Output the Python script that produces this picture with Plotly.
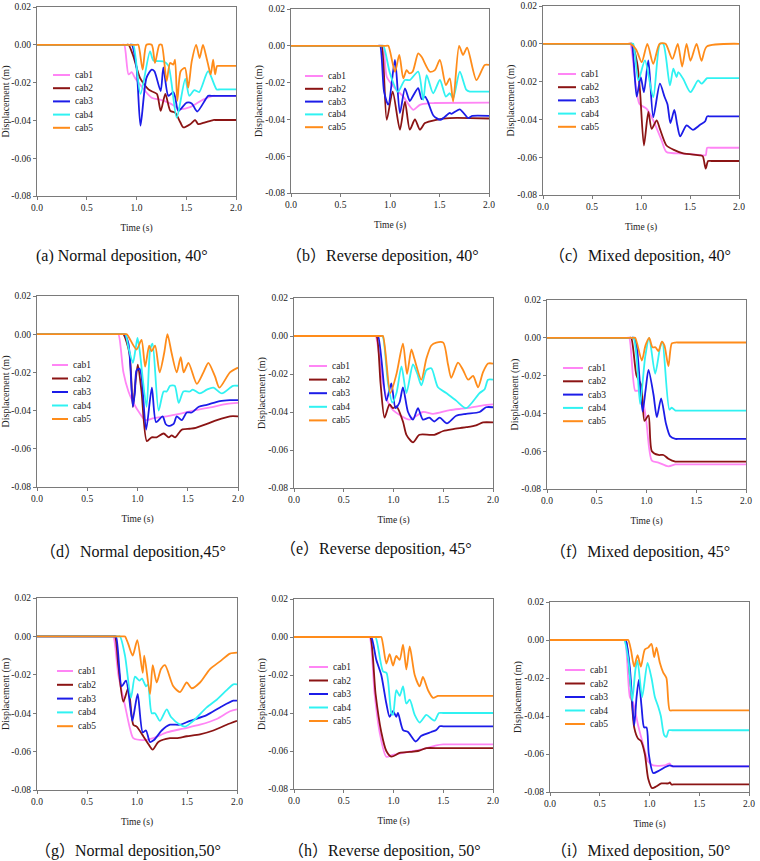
import plotly.graph_objects as go

W, H = 760, 861

SERIES_NAMES = ["cab1", "cab2", "cab3", "cab4", "cab5"]
COLORS = ["#FF85F5", "#8B1414", "#1C1CE8", "#30F2F2", "#FF8C1A"]

X_TICKS = [0.0, 0.5, 1.0, 1.5, 2.0]
X_TICK_LABELS = ["0.0", "0.5", "1.0", "1.5", "2.0"]
Y_TICKS = [0.02, 0.0, -0.02, -0.04, -0.06, -0.08]
Y_TICK_LABELS = ["0.02", "0.00", "-0.02", "-0.04", "-0.06", "-0.08"]

CAPTIONS = [
    "(a) Normal deposition, 40°",
    "（b）Reverse deposition, 40°",
    "（c）Mixed deposition, 40°",
    "（d）Normal deposition,45°",
    "（e）Reverse deposition, 45°",
    "（f）Mixed deposition, 45°",
    "（g）Normal deposition,50°",
    "（h）Reverse deposition, 50°",
    "（i）Mixed deposition, 50°",
]

# ---------------- data (time s, displacement m) ----------------
a_t1 = [0, 0.855, 0.877, 0.92, 0.952, 0.985, 1.153, 1.236, 1.337, 1.437, 1.538, 1.67, 1.77, 1.80, 2.0]
a_y1 = [0, 0, 0, -0.0157, -0.0145, -0.0175, -0.028, -0.029, -0.031, -0.034, -0.033, -0.029, -0.027, -0.027, -0.027]
a_t2 = [0, 0.90, 0.92, 0.968, 1.035, 1.12, 1.17, 1.206, 1.243, 1.29, 1.34, 1.39, 1.44, 1.47, 1.54, 1.59, 1.62, 1.69, 1.77, 1.80, 2.0]
a_y2 = [0, 0, 0, -0.006, -0.0175, -0.0236, -0.025, -0.026, -0.035, -0.026, -0.035, -0.036, -0.041, -0.0437, -0.042, -0.0398, -0.042, -0.041, -0.0398, -0.0398, -0.0398]
a_t3 = [0, 0.93, 0.952, 1.0, 1.04, 1.10, 1.153, 1.18, 1.243, 1.27, 1.32, 1.37, 1.39, 1.42, 1.505, 1.555, 1.61, 1.72, 1.75, 2.0]
a_y3 = [0, 0, 0, -0.012, -0.0428, -0.0175, -0.0131, -0.014, -0.0245, -0.012, -0.027, -0.025, -0.028, -0.035, -0.0306, -0.031, -0.0353, -0.027, -0.027, -0.027]
a_t4 = [0, 0.945, 0.968, 1.04, 1.136, 1.17, 1.27, 1.32, 1.404, 1.49, 1.53, 1.58, 1.63, 1.72, 1.806, 1.84, 2.0]
a_y4 = [0, 0, 0, -0.026, -0.0035, -0.0083, -0.0088, -0.011, -0.0385, -0.018, -0.027, -0.024, -0.025, -0.014, -0.0236, -0.0236, -0.0236]
a_t5 = [0, 1.0, 1.018, 1.062, 1.10, 1.153, 1.186, 1.23, 1.253, 1.303, 1.337, 1.37, 1.387, 1.41, 1.444, 1.487, 1.52, 1.555, 1.6, 1.634, 1.668, 1.70, 1.72, 1.746, 1.77, 1.79, 1.81, 1.84, 2.0]
a_y5 = [0, 0, 0, -0.0131, 0, 0, -0.0096, 0, 0, -0.0192, -0.0096, -0.0105, -0.0079, -0.0297, -0.014, -0.0122, -0.0227, -0.0088, 0, -0.007, 0, -0.0061, -0.0105, -0.0157, -0.0079, -0.0157, -0.0112, -0.0112, -0.0112]

b_t1 = [0, 0.92, 0.933, 0.967, 1.05, 1.134, 1.235, 1.302, 1.403, 1.45, 2.0]
b_y1 = [0, 0, 0, -0.0168, -0.0231, -0.0276, -0.0348, -0.0321, -0.0312, -0.0311, -0.0309]
b_t2 = [0, 0.90, 0.916, 0.967, 1.027, 1.10, 1.151, 1.2, 1.252, 1.302, 1.353, 1.47, 1.6, 2.0]
b_y2 = [0, 0, 0, -0.0402, -0.0249, -0.0456, -0.0303, -0.0456, -0.040, -0.0456, -0.042, -0.0402, -0.0393, -0.0395]
b_t3 = [0, 0.88, 0.90, 0.94, 0.983, 1.05, 1.10, 1.151, 1.2, 1.235, 1.285, 1.32, 1.353, 1.38, 1.44, 1.51, 1.604, 1.62, 1.705, 1.79, 1.83, 2.0]
b_y3 = [0, 0, 0, -0.0249, -0.032, -0.0077, -0.0366, -0.0231, -0.030, -0.027, -0.023, -0.029, -0.0276, -0.030, -0.038, -0.0402, -0.0365, -0.037, -0.0345, -0.0393, -0.0381, -0.0381]
b_t4 = [0, 0.91, 0.933, 1.0, 1.08, 1.15, 1.2, 1.285, 1.336, 1.37, 1.436, 1.504, 1.564, 1.604, 1.638, 1.705, 1.772, 1.806, 1.84, 2.0]
b_y4 = [0, 0, 0, -0.015, -0.025, -0.0186, -0.0186, -0.014, -0.0294, -0.016, -0.0258, -0.0186, -0.0276, -0.0258, -0.0285, -0.0141, -0.024, -0.0249, -0.0249, -0.0249]
b_t5 = [0, 0.96, 0.983, 1.05, 1.094, 1.134, 1.168, 1.194, 1.228, 1.285, 1.319, 1.403, 1.453, 1.504, 1.564, 1.604, 1.638, 1.698, 1.738, 1.779, 1.873, 1.957, 2.0]
b_y5 = [0, 0, 0, -0.0141, -0.005, -0.0177, -0.0132, -0.0149, -0.0141, -0.0041, -0.006, -0.0141, -0.0132, -0.0077, -0.0213, -0.0177, -0.0303, 0, -0.005, -0.001, -0.0186, -0.0104, -0.0104]

c_t1 = [0, 0.87, 0.89, 0.983, 1.058, 1.125, 1.21, 1.26, 1.43, 1.634, 1.66, 1.675, 1.71, 2.0]
c_y1 = [0, 0, 0, -0.0317, -0.0344, -0.0405, -0.0511, -0.0573, -0.0581, -0.059, -0.059, -0.055, -0.055, -0.055]
c_t2 = [0, 0.89, 0.905, 0.96, 0.99, 1.03, 1.075, 1.109, 1.16, 1.193, 1.26, 1.33, 1.43, 1.6, 1.63, 1.66, 1.685, 1.72, 2.0]
c_y2 = [0, 0, 0, -0.010, -0.025, -0.0538, -0.036, -0.045, -0.0405, -0.045, -0.0538, -0.056, -0.058, -0.059, -0.0595, -0.066, -0.062, -0.062, -0.062]
c_t3 = [0, 0.89, 0.905, 0.956, 0.997, 1.03, 1.075, 1.125, 1.193, 1.24, 1.27, 1.30, 1.34, 1.37, 1.40, 1.465, 1.53, 1.6, 1.655, 1.675, 1.71, 2.0]
c_y3 = [0, 0, 0, -0.028, -0.0176, -0.0256, -0.0088, -0.0388, -0.0211, -0.028, -0.032, -0.042, -0.035, -0.043, -0.049, -0.0432, -0.0455, -0.043, -0.041, -0.0384, -0.0384, -0.0384]
c_t4 = [0, 0.90, 0.92, 0.973, 1.04, 1.125, 1.193, 1.227, 1.295, 1.33, 1.363, 1.38, 1.43, 1.505, 1.583, 1.617, 1.675, 1.71, 2.0]
c_y4 = [0, 0, 0, -0.0194, -0.0088, -0.0282, 0, 0, -0.022, -0.0132, -0.0176, -0.015, -0.0185, -0.0256, -0.0194, -0.0211, -0.0182, -0.0182, -0.0182]
c_t5 = [0, 0.87, 0.89, 0.95, 1.007, 1.065, 1.125, 1.19, 1.25, 1.32, 1.375, 1.42, 1.465, 1.505, 1.567, 1.617, 1.67, 2.0]
c_y5 = [0, 0, 0, -0.003, -0.0097, 0, -0.0106, 0, 0, -0.008, 0, -0.012, 0, -0.009, 0, -0.009, -0.0015, 0]

d_t1 = [0, 0.79, 0.81, 0.86, 0.91, 0.96, 1.03, 1.076, 1.16, 1.29, 1.39, 1.556, 1.755, 1.89, 2.0]
d_y1 = [0, 0, 0, -0.020, -0.030, -0.036, -0.042, -0.045, -0.044, -0.043, -0.042, -0.040, -0.038, -0.0365, -0.036]
d_t2 = [0, 0.84, 0.86, 0.92, 0.954, 0.98, 1.003, 1.04, 1.093, 1.14, 1.19, 1.26, 1.31, 1.34, 1.374, 1.44, 1.52, 1.58, 1.69, 1.79, 1.92, 2.0]
d_y2 = [0, 0, 0, -0.010, -0.038, -0.025, -0.016, -0.030, -0.056, -0.054, -0.054, -0.052, -0.054, -0.053, -0.054, -0.050, -0.0495, -0.049, -0.047, -0.045, -0.043, -0.043]
d_t3 = [0, 0.85, 0.87, 0.91, 0.954, 0.975, 0.99, 1.02, 1.04, 1.086, 1.143, 1.185, 1.25, 1.28, 1.31, 1.36, 1.39, 1.44, 1.49, 1.54, 1.61, 1.69, 1.82, 1.92, 2.0]
d_y3 = [0, 0, 0, -0.005, -0.038, -0.030, -0.019, -0.018, -0.022, -0.050, -0.028, -0.046, -0.043, -0.047, -0.048, -0.047, -0.043, -0.045, -0.041, -0.041, -0.038, -0.037, -0.035, -0.0345, -0.0345]
d_t4 = [0, 0.86, 0.88, 0.91, 0.954, 0.98, 1.0, 1.02, 1.09, 1.126, 1.15, 1.21, 1.26, 1.29, 1.325, 1.37, 1.41, 1.457, 1.52, 1.55, 1.62, 1.69, 1.755, 1.84, 1.95, 2.0]
d_y4 = [0, 0, 0, -0.007, -0.015, -0.008, -0.002, -0.008, -0.038, -0.008, -0.005, -0.040, -0.030, -0.030, -0.027, -0.027, -0.036, -0.030, -0.030, -0.029, -0.031, -0.029, -0.028, -0.031, -0.027, -0.027]
d_t5 = [0, 0.874, 0.894, 0.99, 1.04, 1.076, 1.116, 1.14, 1.175, 1.22, 1.265, 1.298, 1.34, 1.39, 1.43, 1.46, 1.507, 1.59, 1.656, 1.705, 1.77, 1.815, 1.92, 2.0]
d_y5 = [0, 0, 0, -0.008, -0.003, -0.017, -0.006, -0.009, -0.006, -0.020, -0.010, 0, -0.010, -0.020, -0.012, -0.020, -0.015, -0.026, -0.020, -0.015, -0.022, -0.028, -0.020, -0.0175]

e_t1 = [0, 0.80, 0.82, 0.894, 0.945, 0.995, 1.16, 1.296, 1.397, 1.565, 1.73, 1.9, 2.0]
e_y1 = [0, 0, 0, -0.025, -0.035, -0.039, -0.044, -0.040, -0.041, -0.039, -0.038, -0.0365, -0.036]
e_t2 = [0, 0.81, 0.83, 0.87, 0.91, 0.96, 0.995, 1.03, 1.095, 1.13, 1.196, 1.26, 1.36, 1.41, 1.5, 1.6, 1.73, 1.83, 1.9, 2.0]
e_y2 = [0, 0, 0, -0.025, -0.043, -0.036, -0.038, -0.037, -0.045, -0.052, -0.056, -0.052, -0.052, -0.052, -0.050, -0.049, -0.048, -0.047, -0.0455, -0.0455]
e_t3 = [0, 0.825, 0.845, 0.928, 0.978, 1.02, 1.06, 1.095, 1.146, 1.196, 1.246, 1.296, 1.36, 1.41, 1.464, 1.537, 1.63, 1.73, 1.866, 1.93, 2.0]
e_y3 = [0, 0, 0, -0.034, -0.025, -0.038, -0.035, -0.027, -0.040, -0.044, -0.038, -0.044, -0.043, -0.045, -0.043, -0.046, -0.042, -0.041, -0.040, -0.0375, -0.0375]
e_t4 = [0, 0.87, 0.89, 0.945, 0.988, 1.03, 1.08, 1.13, 1.196, 1.24, 1.28, 1.33, 1.38, 1.447, 1.53, 1.63, 1.73, 1.866, 1.916, 1.95, 2.0]
e_y4 = [0, 0, 0, -0.025, -0.035, -0.030, -0.016, -0.030, -0.015, -0.020, -0.026, -0.018, -0.017, -0.027, -0.030, -0.034, -0.038, -0.030, -0.028, -0.023, -0.023]
e_t5 = [0, 0.874, 0.894, 0.968, 1.03, 1.095, 1.136, 1.18, 1.21, 1.28, 1.33, 1.38, 1.43, 1.5, 1.548, 1.58, 1.648, 1.7, 1.75, 1.8, 1.85, 1.9, 1.95, 2.0]
e_y5 = [0, 0, 0, -0.030, -0.020, -0.004, -0.020, -0.007, -0.012, -0.023, -0.012, -0.005, -0.0035, -0.0035, -0.015, -0.022, -0.014, -0.018, -0.023, -0.021, -0.027, -0.019, -0.0145, -0.0145]

f_t1 = [0, 0.806, 0.826, 0.886, 0.92, 0.97, 1.0, 1.054, 1.12, 1.22, 1.29, 1.33, 2.0]
f_y1 = [0, 0, 0, -0.028, -0.028, -0.035, -0.045, -0.065, -0.066, -0.068, -0.067, -0.067, -0.067]
f_t2 = [0, 0.826, 0.846, 0.9, 0.946, 0.98, 1.02, 1.054, 1.12, 1.17, 1.22, 1.29, 1.33, 2.0]
f_y2 = [0, 0, 0, -0.020, -0.025, -0.044, -0.041, -0.060, -0.062, -0.062, -0.064, -0.0655, -0.0655, -0.0655]
f_t3 = [0, 0.85, 0.87, 0.9, 0.96, 0.99, 1.02, 1.07, 1.104, 1.147, 1.194, 1.237, 1.29, 1.33, 2.0]
f_y3 = [0, 0, 0, -0.004, -0.039, -0.028, -0.017, -0.030, -0.042, -0.032, -0.045, -0.052, -0.0535, -0.0535, -0.0535]
f_t4 = [0, 0.85, 0.87, 0.9, 0.936, 0.987, 1.027, 1.087, 1.137, 1.16, 1.23, 1.254, 1.29, 1.33, 2.0]
f_y4 = [0, 0, 0, -0.010, -0.035, -0.010, 0, -0.019, -0.005, -0.002, -0.038, -0.037, -0.0385, -0.0385, -0.0385]
f_t5 = [0, 0.866, 0.886, 0.953, 0.99, 1.027, 1.06, 1.09, 1.12, 1.154, 1.18, 1.22, 1.254, 1.29, 1.33, 2.0]
f_y5 = [0, 0, 0, -0.012, -0.004, 0, -0.005, -0.005, -0.007, -0.002, -0.004, -0.015, -0.003, -0.0025, -0.0025, -0.0025]

g_t1 = [0, 0.743, 0.763, 0.813, 0.88, 0.93, 0.963, 1.063, 1.163, 1.297, 1.463, 1.63, 1.797, 1.93, 2.0]
g_y1 = [0, 0, 0, -0.020, -0.036, -0.048, -0.053, -0.054, -0.053, -0.050, -0.048, -0.046, -0.043, -0.039, -0.038]
g_t2 = [0, 0.76, 0.78, 0.813, 0.863, 0.913, 0.963, 0.997, 1.063, 1.113, 1.157, 1.213, 1.33, 1.397, 1.497, 1.63, 1.763, 1.897, 2.0]
g_y2 = [0, 0, 0, -0.015, -0.034, -0.027, -0.046, -0.047, -0.052, -0.056, -0.059, -0.055, -0.053, -0.053, -0.052, -0.051, -0.049, -0.046, -0.044]
g_t3 = [0, 0.77, 0.79, 0.847, 0.89, 0.953, 0.97, 1.007, 1.057, 1.09, 1.13, 1.17, 1.247, 1.33, 1.43, 1.53, 1.697, 1.83, 1.963, 2.0]
g_y3 = [0, 0, 0, -0.026, -0.023, -0.044, -0.040, -0.030, -0.050, -0.049, -0.055, -0.054, -0.049, -0.046, -0.046, -0.044, -0.041, -0.037, -0.0335, -0.0335]
g_t4 = [0, 0.81, 0.83, 0.88, 0.94, 0.98, 1.023, 1.05, 1.09, 1.11, 1.147, 1.18, 1.23, 1.297, 1.34, 1.43, 1.48, 1.563, 1.697, 1.797, 1.897, 1.963, 2.0]
g_y4 = [0, 0, 0, -0.010, -0.032, -0.021, -0.023, -0.022, -0.026, -0.025, -0.040, -0.040, -0.044, -0.038, -0.042, -0.046, -0.047, -0.044, -0.037, -0.033, -0.028, -0.025, -0.025]
g_t5 = [0, 0.86, 0.88, 0.913, 0.957, 1.003, 1.057, 1.073, 1.13, 1.157, 1.197, 1.24, 1.28, 1.363, 1.43, 1.497, 1.547, 1.63, 1.73, 1.83, 1.93, 2.0]
g_y5 = [0, 0, 0, -0.004, -0.010, -0.002, -0.019, -0.010, -0.030, -0.015, -0.024, -0.017, -0.015, -0.026, -0.029, -0.024, -0.027, -0.024, -0.017, -0.013, -0.009, -0.0085]

h_t1 = [0, 0.74, 0.76, 0.81, 0.86, 0.928, 0.995, 1.096, 1.196, 1.296, 1.43, 1.5, 1.54, 2.0]
h_y1 = [0, 0, 0, -0.030, -0.050, -0.063, -0.062, -0.061, -0.060, -0.059, -0.057, -0.0565, -0.0565, -0.0565]
h_t2 = [0, 0.747, 0.767, 0.82, 0.877, 0.928, 0.978, 1.062, 1.163, 1.246, 1.33, 1.447, 1.49, 2.0]
h_y2 = [0, 0, 0, -0.030, -0.050, -0.060, -0.063, -0.061, -0.0605, -0.060, -0.0585, -0.0585, -0.0585, -0.0585]
h_t3 = [0, 0.757, 0.777, 0.827, 0.877, 0.928, 0.961, 0.995, 1.028, 1.045, 1.096, 1.146, 1.223, 1.28, 1.38, 1.43, 1.464, 1.50, 2.0]
h_y3 = [0, 0, 0, -0.012, -0.020, -0.035, -0.042, -0.039, -0.042, -0.040, -0.049, -0.050, -0.055, -0.052, -0.050, -0.049, -0.047, -0.047, -0.047]
h_t4 = [0, 0.80, 0.82, 0.894, 0.93, 0.978, 0.995, 1.028, 1.062, 1.096, 1.129, 1.163, 1.213, 1.263, 1.33, 1.38, 1.414, 1.457, 1.50, 2.0]
h_y4 = [0, 0, 0, -0.018, -0.019, -0.040, -0.041, -0.028, -0.031, -0.026, -0.035, -0.033, -0.041, -0.045, -0.041, -0.043, -0.044, -0.040, -0.040, -0.040]
h_t5 = [0, 0.857, 0.877, 0.928, 0.961, 0.995, 1.028, 1.062, 1.096, 1.129, 1.163, 1.213, 1.263, 1.296, 1.347, 1.397, 1.447, 1.49, 2.0]
h_y5 = [0, 0, 0, -0.014, -0.009, -0.015, -0.010, -0.012, -0.004, -0.017, -0.005, -0.020, -0.026, -0.021, -0.028, -0.032, -0.031, -0.031, -0.031]

i_t1 = [0, 0.733, 0.753, 0.803, 0.836, 0.886, 0.936, 0.987, 1.037, 1.154, 1.204, 1.22, 1.26, 2.0]
i_y1 = [0, 0, 0, -0.030, -0.033, -0.045, -0.055, -0.064, -0.066, -0.066, -0.065, -0.0665, -0.0665, -0.0665]
i_t2 = [0, 0.74, 0.76, 0.813, 0.846, 0.886, 0.913, 0.953, 0.987, 1.027, 1.07, 1.12, 1.187, 1.205, 1.22, 1.26, 2.0]
i_y2 = [0, 0, 0, -0.025, -0.046, -0.052, -0.053, -0.060, -0.073, -0.078, -0.077, -0.0755, -0.0755, -0.075, -0.076, -0.076, -0.076]
i_t3 = [0, 0.74, 0.76, 0.803, 0.846, 0.87, 0.893, 0.92, 0.946, 0.97, 0.993, 1.037, 1.087, 1.154, 1.204, 1.237, 1.27, 2.0]
i_y3 = [0, 0, 0, -0.015, -0.045, -0.030, -0.021, -0.035, -0.046, -0.046, -0.060, -0.070, -0.069, -0.067, -0.066, -0.0665, -0.0665, -0.0665]
i_t4 = [0, 0.726, 0.746, 0.786, 0.826, 0.86, 0.88, 0.926, 0.98, 1.02, 1.054, 1.087, 1.114, 1.147, 1.17, 1.194, 1.23, 2.0]
i_y4 = [0, 0, 0, -0.010, -0.032, -0.015, -0.011, -0.030, -0.012, -0.020, -0.030, -0.035, -0.040, -0.050, -0.051, -0.0475, -0.0475, -0.0475]
i_t5 = [0, 0.766, 0.786, 0.813, 0.846, 0.88, 0.913, 0.953, 0.987, 1.02, 1.047, 1.07, 1.104, 1.137, 1.17, 1.204, 1.24, 2.0]
i_y5 = [0, 0, 0, -0.005, -0.014, -0.008, -0.014, -0.005, -0.004, -0.002, -0.009, -0.004, -0.012, -0.017, -0.020, -0.037, -0.037, -0.037]

PANELS = [
    [(a_t1, a_y1), (a_t2, a_y2), (a_t3, a_y3), (a_t4, a_y4), (a_t5, a_y5)],
    [(b_t1, b_y1), (b_t2, b_y2), (b_t3, b_y3), (b_t4, b_y4), (b_t5, b_y5)],
    [(c_t1, c_y1), (c_t2, c_y2), (c_t3, c_y3), (c_t4, c_y4), (c_t5, c_y5)],
    [(d_t1, d_y1), (d_t2, d_y2), (d_t3, d_y3), (d_t4, d_y4), (d_t5, d_y5)],
    [(e_t1, e_y1), (e_t2, e_y2), (e_t3, e_y3), (e_t4, e_y4), (e_t5, e_y5)],
    [(f_t1, f_y1), (f_t2, f_y2), (f_t3, f_y3), (f_t4, f_y4), (f_t5, f_y5)],
    [(g_t1, g_y1), (g_t2, g_y2), (g_t3, g_y3), (g_t4, g_y4), (g_t5, g_y5)],
    [(h_t1, h_y1), (h_t2, h_y2), (h_t3, h_y3), (h_t4, h_y4), (h_t5, h_y5)],
    [(i_t1, i_y1), (i_t2, i_y2), (i_t3, i_y3), (i_t4, i_y4), (i_t5, i_y5)],
]

# ---------------- layout (pixels) ----------------
# plot-area boxes: left, right, top, bottom
BOXES = [
    (37, 236, 7, 196), (291, 489, 9, 193), (543, 739, 6, 195),
    (37, 238, 296, 487), (294, 493, 298, 488), (547, 746, 300, 489),
    (37, 237, 598, 790), (294, 493, 599, 789), (550, 749, 602, 792),
]
# legend: line x0, line x1, first row y, row step
LEGENDS = [
    (53, 70, 75, 13.2), (305, 323, 76, 12.8), (558, 576, 74, 13.2),
    (52, 68, 80, 13.5), (309, 327, 81, 13.6), (563, 583, 83, 13.3),
    (57, 73, 91, 13.8), (309, 328, 87, 13.5), (565, 585, 90, 13.5),
]
ROW_OFFSETS = [0, 0, 0, 285, 285, 285, 580, 580, 580]
CAPTION_XY = [
    (122, 256), (383, 256), (640, 256),
    (133, 552), (376, 549), (640, 552),
    (128, 851), (384, 851), (640, 851),
]

SERIF = "Liberation Serif, Times New Roman, serif"
CAP_FONT = "Liberation Serif, Times New Roman, Noto Sans CJK SC, serif"
AXIS_COLOR = "#7a7a7a"


def px(x):
    return x / W


def py(y):
    return 1 - y / H


fig = go.Figure()
shapes = []
annotations = []
layout_axes = {}

for k, series in enumerate(PANELS):
    sfx = "" if k == 0 else str(k + 1)
    for j, (t, y) in enumerate(series):
        fig.add_trace(go.Scatter(
            x=t, y=y, mode="lines", name=SERIES_NAMES[j],
            line=dict(color=COLORS[j], width=1.8, shape="spline", smoothing=0.7),
            xaxis="x" + sfx, yaxis="y" + sfx, showlegend=False,
        ))
    l, r, tp, bt = BOXES[k]
    common = dict(
        showline=True, linecolor=AXIS_COLOR, linewidth=1, mirror=True,
        showgrid=False, zeroline=False, ticks="outside", ticklen=3,
        tickcolor=AXIS_COLOR, tickfont=dict(family=SERIF, size=9.5, color="#222"),
        automargin=False,
    )
    layout_axes["xaxis" + sfx] = dict(
        common, domain=[px(l), px(r)], range=[0, 2], anchor="y" + sfx,
        tickvals=X_TICKS, ticktext=X_TICK_LABELS,
        title=dict(text="Time (s)", font=dict(family=SERIF, size=9.5, color="#222"), standoff=11),
    )
    layout_axes["yaxis" + sfx] = dict(
        common, domain=[py(bt), py(tp)], range=[-0.08, 0.02], anchor="x" + sfx,
        tickvals=Y_TICKS, ticktext=Y_TICK_LABELS,
        title=dict(text="Displacement (m)", font=dict(family=SERIF, size=10, color="#222"), standoff=0),
    )
    # compact legend drawn inside each panel
    x0, x1, y0, dy = LEGENDS[k]
    off = ROW_OFFSETS[k]
    for j, name in enumerate(SERIES_NAMES):
        yy = off + y0 + j * dy
        shapes.append(dict(type="line", xref="paper", yref="paper",
                           x0=px(x0), x1=px(x1), y0=py(yy), y1=py(yy),
                           line=dict(color=COLORS[j], width=2)))
        annotations.append(dict(x=px(x1 + 3), y=py(yy), xref="paper", yref="paper",
                                text=name, showarrow=False, xanchor="left", yanchor="middle",
                                font=dict(family=SERIF, size=9.5, color="#222")))
    cx, cy = CAPTION_XY[k]
    annotations.append(dict(x=px(cx), y=py(cy), xref="paper", yref="paper",
                            text=CAPTIONS[k], showarrow=False, xanchor="center", yanchor="middle",
                            font=dict(family=CAP_FONT, size=16, color="#111")))

fig.update_layout(
    width=W, height=H, margin=dict(l=0, r=0, t=0, b=0),
    paper_bgcolor="white", plot_bgcolor="white",
    shapes=shapes, annotations=annotations, showlegend=False,
    **layout_axes,
)

fig.write_html("out.html")
